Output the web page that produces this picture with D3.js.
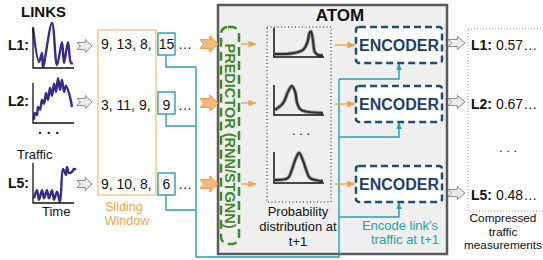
<!DOCTYPE html>
<html>
<head>
<meta charset="utf-8">
<script src="https://cdn.jsdelivr.net/npm/d3@7"></script>
<style>
  body { margin: 0; background: #fff; }
  svg text { font-family: "Liberation Sans", Arial, sans-serif; }
</style>
</head>
<body>
<div id="fig"></div>
<script>
(function() {

    var w = 543;
    var h = 260;

    // ---- data ----
    var links = ["L1", "L2", "L5"];
    var windowVals = ["9, 13, 8,", "3, 11, 9,", "9, 10, 8,"];
    var nextVals = ["15", "9", "6"];
    var compressed = ["0.57…", "0.67…", "0.48…"];

    // link traffic sketches (time step, relative traffic)
    var l1Time = [0, 6, 9, 10, 19, 24, 29, 31, 35, 38, 40];
    var l1Traffic = [0.98, 0.15, 0.37, 0.02, 1.1, 0.07, 0.63, 0.12, 0.63, 0.12, 0.12];
    var l2Time = [1, 2, 4, 5, 7, 9, 11, 13, 15, 17, 19, 21, 23, 25, 27, 29, 31, 33, 37, 39];
    var l2Traffic = [0.08, 0.25, 0.2, 0.4, 0.33, 0.58, 0.48, 0.75, 0.58, 0.88, 0.68, 0.98, 0.78, 1.12, 0.83, 1.08, 0.78, 0.93, 0.65, 0.4];
    var l5Time = [1, 4, 6, 9, 11, 14, 16, 19, 21, 24, 27, 30, 33, 34, 36, 39, 41, 43];
    var l5Traffic = [0.12, 0.32, 0.08, 0.32, 0.12, 0.32, 0.12, 0.32, 0.08, 0.28, 0.03, 0.85, 0.7, 0.9, 0.75, 0.78, 0.85, 0.83];

    // predicted probability distributions (value, density)
    var d1X = [0, 0.375, 0.58, 0.67, 0.72, 0.75, 0.79, 0.83, 0.9, 1];
    var d1P = [0.1, 0.13, 0.24, 0.48, 0.83, 0.88, 0.59, 0.17, 0.07, 0.05];
    var d2X = [0, 0.17, 0.27, 0.35, 0.42, 0.46, 0.52, 0.625, 1];
    var d2P = [0.17, 0.4, 0.77, 0.97, 0.77, 0.4, 0.2, 0.12, 0.07];
    var d3X = [0, 0.27, 0.35, 0.42, 0.5, 0.58, 0.65, 0.73, 1];
    var d3P = [0.1, 0.16, 0.42, 0.74, 0.97, 0.74, 0.42, 0.16, 0.06];

    // ---- layout ----
    var rowY = [44, 103, 184];
    var labelY = [50, 106, 188];
    var textY = [49, 110, 189];
    var outY = [45, 104, 195];
    var chartBox = [[27, 68], [83, 123], [163, 203]];
    var distBox = [[28, 57], [85, 115], [152, 183]];
    var encY = [45, 104, 184];
    var tealDrop = [67, 126, 210];
    var tealBranch = [79, 137, 217];

    var purple = "#3b2a8c";
    var orange = "#f2a24e";
    var teal = "#24a0b2";
    var navy = "#1f4e79";
    var green = "#3f8a24";

    var svg = d3.select("#fig").append("svg")
        .attr("width", w)
        .attr("height", h);

    var defs = svg.append("defs");
    defs.append("marker").attr("id", "hOrange")
        .attr("viewBox", "0 0 10 10").attr("refX", 9).attr("refY", 5)
        .attr("markerWidth", 6).attr("markerHeight", 6).attr("orient", "auto")
        .append("path").attr("d", "M0,1 L10,5 L0,9 Z").attr("fill", orange);
    defs.append("marker").attr("id", "hTeal")
        .attr("viewBox", "0 0 10 10").attr("refX", 9).attr("refY", 5)
        .attr("markerWidth", 5).attr("markerHeight", 5).attr("orient", "auto")
        .append("path").attr("d", "M0,1 L10,5 L0,9 Z").attr("fill", teal);

    function blockArrow(x, y, aw, ah) {
        var bh = ah * 0.55, hw = aw * 0.45, notch = aw * 0.22;
        return "M" + x + "," + (y - bh / 2) +
            " L" + (x + aw - hw) + "," + (y - bh / 2) +
            " L" + (x + aw - hw) + "," + (y - ah / 2) +
            " L" + (x + aw) + "," + y +
            " L" + (x + aw - hw) + "," + (y + ah / 2) +
            " L" + (x + aw - hw) + "," + (y + bh / 2) +
            " L" + x + "," + (y + bh / 2) +
            " L" + (x + notch) + "," + y + " Z";
    }

    // ---- ATOM box ----
    svg.append("rect")
        .attr("x", 218).attr("y", 5).attr("width", 229).attr("height", 249)
        .attr("fill", "#efefef").attr("stroke", "#5a5a5a").attr("stroke-width", 2.5);
    svg.append("text").attr("x", 340).attr("y", 21)
        .attr("text-anchor", "middle").attr("font-size", 17).attr("font-weight", "bold")
        .attr("fill", "#111").text("ATOM");

    // ---- links column ----
    svg.append("text").attr("x", 21).attr("y", 17)
        .attr("font-size", 15).attr("font-weight", "bold").attr("fill", "#111").text("LINKS");

    var series = [[l1Time, l1Traffic], [l2Time, l2Traffic], [l5Time, l5Traffic]];
    var tx = d3.scaleLinear().domain([0, 42]).range([33, 75]);

    series.forEach(function(s, i) {
        var ty = d3.scaleLinear().domain([0, 1]).range([chartBox[i][1], chartBox[i][0]]);
        var pts = d3.zip(s[0], s[1]);
        svg.append("path").datum(pts)
            .attr("d", d3.line().x(function(d) { return tx(d[0]); })
                .y(function(d) { return ty(d[1]); })
                .curve(d3.curveCatmullRom.alpha(0.5)))
            .attr("fill", "none").attr("stroke", purple).attr("stroke-width", 2.4)
            .attr("stroke-linejoin", "round");
        svg.append("path")
            .attr("d", "M" + tx(0) + "," + chartBox[i][0] + " V" + chartBox[i][1] + " H" + tx(41))
            .attr("fill", "none").attr("stroke", "#111").attr("stroke-width", 1.3);
        svg.append("text").attr("x", 8).attr("y", labelY[i])
            .attr("font-size", 14).attr("font-weight", "bold").attr("fill", "#111")
            .text(links[i] + ":");
        svg.append("path").attr("d", blockArrow(77, labelY[i] - 4, 15, 13))
            .attr("fill", "#ececec").attr("stroke", "#8a8a8a").attr("stroke-width", 1);
    });

    svg.append("text").attr("x", 49).attr("y", 138).attr("text-anchor", "middle")
        .attr("font-size", 14).attr("font-weight", "bold").attr("fill", "#111").text("· · ·");
    svg.append("text").attr("x", 17).attr("y", 159)
        .attr("font-size", 13).attr("fill", "#111").text("Traffic");
    svg.append("text").attr("x", 42).attr("y", 216)
        .attr("font-size", 13).attr("fill", "#111").text("Time");

    // ---- sliding window ----
    svg.append("rect").attr("x", 98).attr("y", 30).attr("width", 58).attr("height", 165)
        .attr("fill", "none").attr("stroke", "#f7c58d").attr("stroke-width", 1.5);
    svg.append("text").attr("x", 124).attr("y", 211).attr("text-anchor", "middle")
        .attr("font-size", 12.5).attr("fill", orange).text("Sliding");
    svg.append("text").attr("x", 127).attr("y", 225).attr("text-anchor", "middle")
        .attr("font-size", 12.5).attr("fill", orange).text("Window");

    // teal routing from the next values to the encoders
    var tealPath = d3.path();
    rowY.forEach(function(y, i) {
        tealPath.moveTo(166, y + 11);
        tealPath.lineTo(166, tealDrop[i]);
        tealPath.lineTo(196, tealDrop[i]);
    });
    tealPath.moveTo(196, tealDrop[0]);
    tealPath.lineTo(196, 257);
    tealPath.lineTo(339, 257);
    tealPath.lineTo(339, tealBranch[0]);
    svg.append("path").attr("d", tealPath.toString())
        .attr("fill", "none").attr("stroke", teal).attr("stroke-width", 1.4);

    rowY.forEach(function(y, i) {
        svg.append("text").attr("x", 101).attr("y", textY[i])
            .attr("font-size", 14).attr("fill", "#111").text(windowVals[i]);
        svg.append("rect").attr("x", 158).attr("y", y - 11).attr("width", 17).attr("height", 22)
            .attr("fill", "#fff").attr("stroke", teal).attr("stroke-width", 1.4);
        svg.append("text").attr("x", 166.5).attr("y", textY[i])
            .attr("text-anchor", "middle").attr("font-size", 14).attr("fill", "#111").text(nextVals[i]);
        svg.append("text").attr("x", 178).attr("y", textY[i])
            .attr("font-size", 14).attr("fill", "#111").text("…");
        svg.append("path").attr("d", blockArrow(200, y, 18, 16))
            .attr("fill", "#f7b978").attr("stroke", "#ec9a48").attr("stroke-width", 1);

        // predictor -> distribution
        svg.append("line").attr("x1", 241).attr("y1", y).attr("x2", 256).attr("y2", y)
            .attr("stroke", orange).attr("stroke-width", 1.4).attr("marker-end", "url(#hOrange)");
        // distribution -> encoder
        svg.append("line").attr("x1", 335).attr("y1", encY[i]).attr("x2", 355).attr("y2", encY[i])
            .attr("stroke", orange).attr("stroke-width", 1.4).attr("marker-end", "url(#hOrange)");
    });

    // ---- predictor ----
    svg.append("rect").attr("x", 221).attr("y", 27).attr("width", 18).attr("height", 217)
        .attr("rx", 7).attr("fill", "none")
        .attr("stroke", green).attr("stroke-width", 2.5).attr("stroke-dasharray", "9,5");
    svg.append("text")
        .attr("transform", "translate(225,136) rotate(90)")
        .attr("text-anchor", "middle").attr("font-size", 14.5).attr("font-weight", "bold")
        .attr("fill", green).text("PREDICTOR (RNN/STGNN)");

    // ---- distributions ----
    svg.append("rect").attr("x", 267).attr("y", 27).attr("width", 64).attr("height", 175)
        .attr("fill", "none").attr("stroke", "#111").attr("stroke-width", 1)
        .attr("stroke-dasharray", "1,2.5");
    var dists = [[d1X, d1P], [d2X, d2P], [d3X, d3P]];
    var dx = d3.scaleLinear().domain([0, 1]).range([275, 323]);
    dists.forEach(function(dd, i) {
        var dy = d3.scaleLinear().domain([0, 1]).range([distBox[i][1], distBox[i][0]]);
        var line = d3.line().x(function(d) { return dx(d[0]); })
            .y(function(d) { return dy(d[1]); })
            .curve(d3.curveCatmullRom.alpha(0.5));
        svg.append("path").datum(d3.zip(dd[0], dd[1])).attr("d", line)
            .attr("fill", "none").attr("stroke", "#9a9a9a").attr("stroke-width", 3.8);
        svg.append("path").datum(d3.zip(dd[0], dd[1])).attr("d", line)
            .attr("fill", "none").attr("stroke", "#2e2e2e").attr("stroke-width", 2);
        svg.append("path")
            .attr("d", "M274," + distBox[i][0] + " V" + distBox[i][1] + " H324")
            .attr("fill", "none").attr("stroke", "#111").attr("stroke-width", 1.5);
    });
    svg.append("text").attr("x", 301).attr("y", 135).attr("text-anchor", "middle")
        .attr("font-size", 13).attr("fill", "#000").text(". . .");
    ["Probability", "distribution at", "t+1"].forEach(function(t, i) {
        svg.append("text").attr("x", 298).attr("y", 216 + i * 15).attr("text-anchor", "middle")
            .attr("font-size", 13).attr("fill", "#111").text(t);
    });

    // ---- encoders ----
    encY.forEach(function(y, i) {
        var p = d3.path();
        p.moveTo(339, tealBranch[i]);
        p.lineTo(399, tealBranch[i]);
        p.lineTo(399, y + 19);
        svg.append("path").attr("d", p.toString())
            .attr("fill", "none").attr("stroke", teal).attr("stroke-width", 1.4)
            .attr("marker-end", "url(#hTeal)");
        svg.append("rect").attr("x", 356).attr("y", y - 18).attr("width", 86).attr("height", 36)
            .attr("rx", 3).attr("fill", "#fff")
            .attr("stroke", navy).attr("stroke-width", 2.5).attr("stroke-dasharray", "7,4");
        svg.append("text").attr("x", 399).attr("y", y + 6).attr("text-anchor", "middle")
            .attr("font-size", 16).attr("font-weight", "bold").attr("fill", "#1d3f6b").text("ENCODER");
        svg.append("path").attr("d", blockArrow(448, outY[i] - 2, 17, 13))
            .attr("fill", "#ececec").attr("stroke", "#8a8a8a").attr("stroke-width", 1);
    });
    svg.append("text").attr("x", 400).attr("y", 230).attr("text-anchor", "middle")
        .attr("font-size", 13).attr("fill", teal).text("Encode link's");
    svg.append("text").attr("x", 405).attr("y", 244).attr("text-anchor", "middle")
        .attr("font-size", 13).attr("fill", teal).text("traffic at t+1");

    // ---- compressed output ----
    svg.append("rect").attr("x", 468).attr("y", 29).attr("width", 80).attr("height", 182)
        .attr("fill", "none").attr("stroke", "#9a9a9a").attr("stroke-width", 1)
        .attr("stroke-dasharray", "1,2");
    links.forEach(function(l, i) {
        var t = svg.append("text").attr("x", 471).attr("y", outY[i] + 5)
            .attr("font-size", 14).attr("fill", "#111");
        t.append("tspan").attr("font-weight", "bold").text(l + ":");
        t.append("tspan").text(" " + compressed[i]);
    });
    svg.append("text").attr("x", 508).attr("y", 152).attr("text-anchor", "middle")
        .attr("font-size", 13).attr("fill", "#111").text(". . .");
    ["Compressed", "traffic", "measurements"].forEach(function(t, i) {
        svg.append("text").attr("x", 503).attr("y", 222 + i * 13.5).attr("text-anchor", "middle")
            .attr("font-size", 11.8).attr("fill", "#111").text(t);
    });

})();
</script>
</body>
</html>
